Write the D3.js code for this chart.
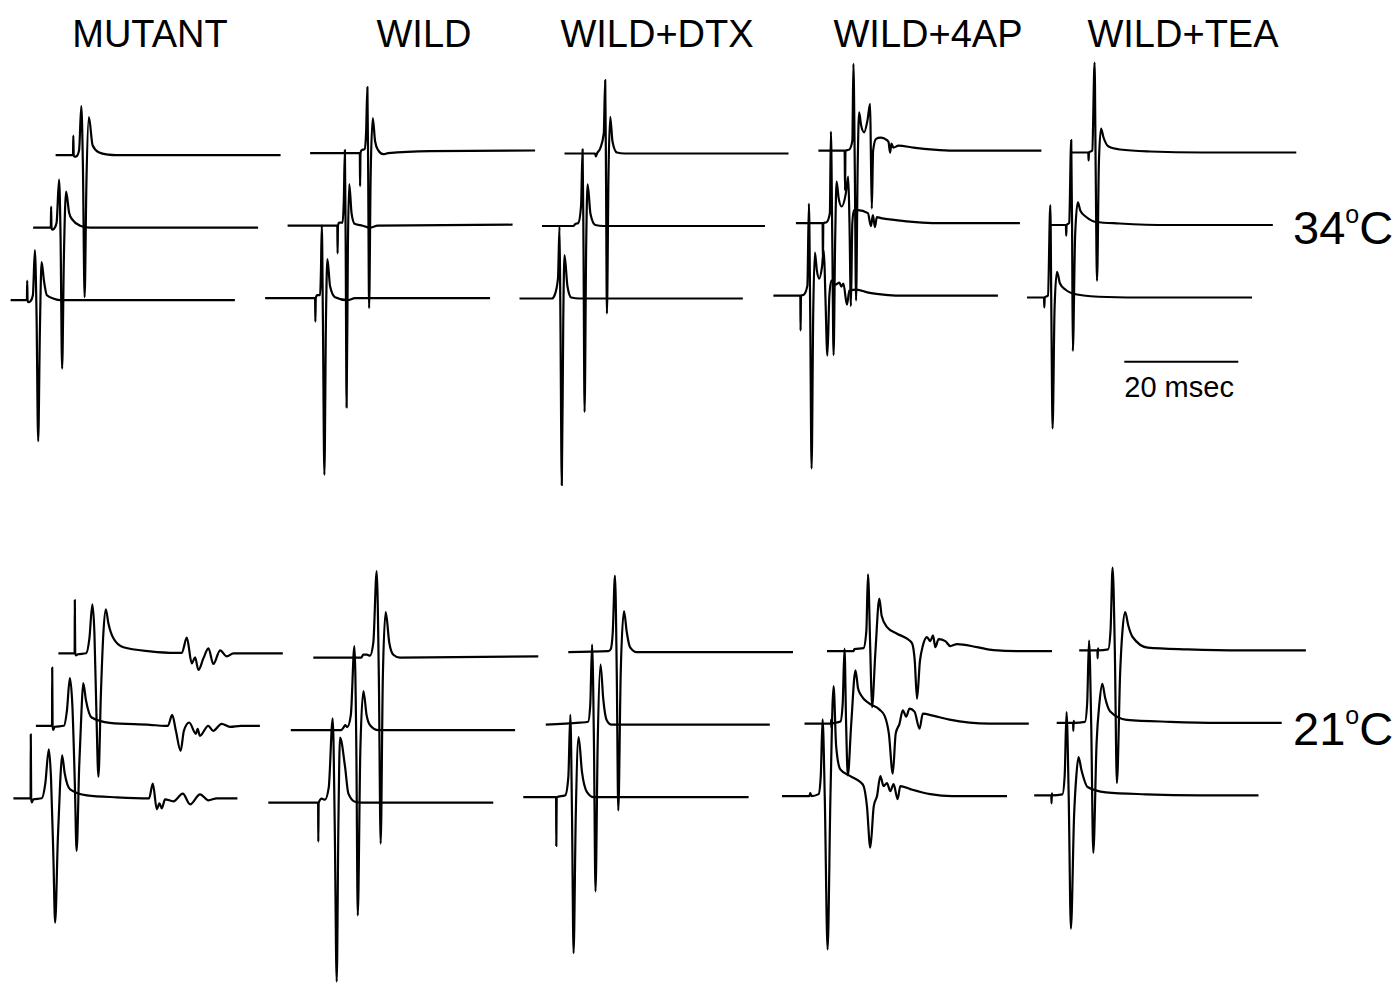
<!DOCTYPE html>
<html>
<head>
<meta charset="utf-8">
<script src="https://cdn.jsdelivr.net/npm/d3@7"></script>
<style>
  html, body { margin: 0; padding: 0; background: #fff; }
  svg { display: block; font-family: "Liberation Sans", Arial, sans-serif; }
</style>
</head>
<body>
<div id="chart"></div>
<script>
const WIDTH = 1399
const HEIGHT = 984

// column titles and temperature rows
const columns = ['MUTANT', 'WILD', 'WILD+DTX', 'WILD+4AP', 'WILD+TEA']
const temperatures = ['34', '21']

// each trace: [time (ms from sweep start), amplitude (a.u., up = positive)]
// traces listed bottom -> top, as stacked in the figure

// ---- 34 C ----
const mutant34 = [
  [[0,0],[2.86,0],[2.91,19.7],[2.98,0],[3.12,-2],[3.49,-1],[3.91,5],[4.26,50],[4.54,-10],[4.84,-141],[5.14,-30],[5.44,38],[5.84,20],[6.37,5],[7.6,1.5],[8.77,0],[39.35,0]],
  [[0,0],[3.1,0],[3.16,21],[3.23,0],[3.33,-2],[3.68,-1],[4.12,5],[4.56,48],[4.82,-10],[5.09,-141],[5.4,-30],[5.79,36],[6.32,15],[6.89,8],[8.25,2],[10,0],[39.47,0]],
  [[0,0],[3.05,0],[3.11,19.7],[3.18,0],[3.33,-1.5],[3.68,-1],[4.12,5],[4.51,49],[4.79,-10],[5.09,-142],[5.4,-30],[5.84,38],[6.49,10],[7.54,3],[9.3,0.5],[10.53,0],[39.47,0]]
]
const wild34 = [
  [[0,0],[8.77,0],[8.82,-23.4],[8.89,0],[9.12,3],[9.65,3],[9.79,25],[9.95,72.6],[10.14,-20],[10.4,-176.7],[10.68,-20],[10.93,39],[11.4,12],[12.28,1],[14.44,-2],[15.79,0],[39.47,0]],
  [[0,0],[8.72,0],[8.77,-27.7],[8.84,0],[9.04,3],[9.65,3],[9.86,25],[10.05,75.7],[10.19,-20],[10.35,-181.7],[10.58,-20],[10.81,41.7],[11.23,12],[11.75,2],[13.16,0],[14.39,-2],[15.79,0],[39.47,1]],
  [[0,0],[8.72,0],[8.77,-33],[8.84,0],[9.04,3],[9.56,4],[9.82,20],[10.05,66],[10.19,-20],[10.35,-155],[10.63,-20],[11,35],[11.4,12],[11.93,3],[12.81,-1],[13.68,0],[21.05,2],[39.47,2.7]]
]
const dtx34 = [
  [[0,0],[5.7,0],[6.14,3],[6.75,20],[7.02,71.6],[7.18,-20],[7.42,-186.7],[7.68,-20],[7.89,43.3],[8.42,12],[9.07,1],[10.5,0],[39.18,0]],
  [[0,0],[5.5,0],[5.85,2],[6.37,3],[6.85,20],[7.12,76.7],[7.28,-20],[7.47,-186],[7.75,-20],[8,41.7],[8.51,12],[9.35,1],[10.8,0],[39.12,0]],
  [[0,0],[5.35,0],[5.51,-3],[5.7,0],[6.26,5],[6.89,20],[7.14,73.3],[7.28,-20],[7.44,-160],[7.72,-20],[8.02,36.7],[8.42,12],[9.19,1],[10.53,0],[39.3,0]]
]
const ap34 = [
  [[0,0],[4.72,0],[4.77,-35],[4.84,0],[5.35,1],[5.96,10],[6.23,92],[6.46,-20],[6.7,-173],[6.98,-20],[7.28,43],[7.63,25],[8.04,17],[8.51,28],[8.86,45],[9.12,0],[9.47,-60],[9.82,0],[10.18,15],[10.88,11],[11.58,13],[11.93,9],[12.28,12],[12.9,-9],[13.33,5],[14.56,6],[16.67,3],[19.3,1],[21.93,0],[39.39,0]],
  [[0,0],[4.68,0],[4.74,-40],[4.81,0],[5.4,1],[5.96,10],[6.14,91.6],[6.39,-20],[6.61,-132],[6.88,-20],[7.14,41.6],[7.5,25],[8.02,16.6],[8.77,30],[9.18,46.6],[9.4,0],[9.65,-83],[9.9,0],[10.18,13],[10.88,13],[12.63,10],[13.16,-3],[13.51,8],[13.86,-4],[14.21,6],[14.91,5],[17.54,3],[21.05,1],[24.56,0],[39.3,0]],
  [[0,0],[4.6,0],[4.68,-40],[4.75,0],[5.4,1],[5.96,10],[6.14,86.7],[6.39,-20],[6.61,-150],[6.88,-20],[7.14,38.3],[7.5,25],[8.02,18.3],[8.6,30],[9.07,46.7],[9.2,0],[9.37,-58],[9.6,0],[10.12,11.7],[10.88,13],[11.58,12],[12.28,9],[12.58,-2],[12.81,7],[13.16,3],[14.04,5],[16.67,3],[20.18,1],[23.68,0],[39.12,0]]
]
const tea34 = [
  [[0,0],[2.98,0],[3.04,-10],[3.11,0],[3.68,2],[4.09,92.3],[4.28,-20],[4.49,-131],[4.84,-10],[5.26,25.6],[5.79,14],[6.72,8],[8.77,3],[14.04,0.5],[21.05,0],[39.47,0]],
  [[0,0],[2.88,0],[2.93,-10.7],[3,0],[3.45,2],[3.81,85],[3.98,-20],[4.09,-126],[4.5,-10],[4.96,22.6],[5.44,14],[6.44,8],[8.19,3],[12.28,1.5],[21.05,0],[39.18,0]],
  [[0,0],[2.86,0],[2.91,-8],[2.98,0],[3.56,2],[3.96,90],[4.16,-20],[4.39,-128.4],[4.72,-10],[5.09,24],[5.53,15],[6.42,6],[8.42,3],[13.68,1],[22.81,0],[39.35,0]]
]

// ---- 21 C ----
const mutant21 = [
  [[0,0],[3.02,0],[3.05,64],[3.12,0],[3.23,-4],[3.5,-1],[4.98,0],[5.6,15],[6.21,49],[6.6,20],[7.02,-60],[7.32,-124.3],[7.8,-40],[8.2,15],[8.54,43],[9,25],[9.95,9],[12.88,3],[18.14,1],[23.8,0],[24.46,14.7],[25.16,-11],[25.61,-5],[26.04,-10],[26.61,-1],[28.07,-3],[29.72,4.7],[31,-6],[32.75,4],[34.21,-2],[35.68,0],[39.3,0]],
  [[0,0],[2.83,0],[2.86,58.3],[2.93,0],[3.04,-4],[3.3,-1],[4.91,0],[5.44,15],[5.96,47.7],[6.4,20],[6.84,-60],[7.14,-125],[7.6,-40],[8,15],[8.3,42.7],[8.8,25],[9.77,8.3],[12.98,3],[20,1],[22.63,0],[23.16,0],[23.91,11],[24.56,-5],[25.39,-25],[25.96,-5],[26.89,3.3],[28.07,-8],[28.37,-3],[28.77,-10],[30.23,0],[31.11,-5],[32.58,2],[34.04,-1],[35.96,0],[39.3,0]],
  [[0,0],[2.85,0],[2.88,53.3],[2.95,0],[3.1,-2],[3.4,-1],[4.86,0],[5.44,15],[5.96,49],[6.32,20],[6.67,-60],[7.02,-123.4],[7.46,-40],[7.89,20],[8.32,44],[8.77,30],[9.65,15],[11.4,6],[16.09,2],[20.47,0.5],[21.65,0.5],[22.53,15.6],[23.4,-10],[23.98,-4],[24.56,-16.7],[25.44,-5],[26.32,5],[27.19,-10.7],[28.37,3],[29.54,-3],[30.7,0],[39.37,0]]
]
const wild21 = [
  [[0,0],[8.74,0],[8.77,-39],[8.84,0],[9.37,4],[9.95,3],[10.6,15],[11.3,84.4],[11.65,-20],[12,-179],[12.3,-20],[12.58,65],[13.46,36],[14.04,9.4],[15.21,1],[16.5,0],[39.47,0]],
  [[0,0],[8.8,0],[9.3,3],[9.53,5],[9.9,3],[10.53,15],[11.16,84],[11.5,-20],[11.75,-185.3],[12.2,-20],[12.74,39],[13.3,15],[13.91,5],[15.37,0],[39.35,0]],
  [[0,0],[8.4,0],[8.77,3],[9.4,3],[9.95,2],[10.53,15],[11.12,86.6],[11.5,-20],[11.82,-186],[12.2,-20],[12.7,45.6],[13.33,15],[14.04,3],[15.21,0],[39.47,1.3]]
]
const dtx21 = [
  [[0,0],[5.75,0],[5.79,-48.7],[5.86,0],[7.37,2],[7.9,20],[8.25,82.3],[8.55,-20],[8.82,-156],[9.2,-20],[9.7,60],[10.3,25],[11.18,5],[12.33,0],[39.53,0]],
  [[0,0],[5.96,2],[7.42,3],[7.8,20],[8.12,80],[8.45,-20],[8.72,-166.7],[9.1,-20],[9.6,60],[10.09,25],[10.65,5],[11.53,0],[39.3,0]],
  [[0,0],[7.02,1],[7.44,3],[7.8,20],[8.19,76.7],[8.5,-20],[8.77,-158.3],[9.2,-20],[9.77,41],[10.26,20],[10.82,5],[12,0],[39.42,0]]
]
const ap21 = [
  [[0,0],[4.8,0],[4.96,3],[5.15,0],[6.42,2],[6.8,20],[7.12,76.7],[7.5,0],[8,-153.3],[8.5,0],[9.05,110],[9.5,50],[10.23,26.7],[11.98,20],[13.74,14],[14.32,10],[14.9,-10],[15.49,-51.6],[16.1,-10],[16.67,0],[17.25,20],[17.82,10],[18.42,13],[19,5],[19.58,12],[20.28,-3],[20.76,10],[22.51,7],[26.02,2],[29.82,0],[39.47,0]],
  [[0,0],[4.65,0],[4.68,4],[4.72,-4],[4.76,0],[6.3,2],[6.7,20],[7.02,75],[7.3,0],[7.6,-51.7],[8.2,0],[8.95,53.3],[9.4,35],[9.95,28],[11.4,20],[13.16,14],[14.04,8],[14.8,-10],[15.49,-50],[16,-10],[16.67,0],[17.25,13.3],[17.84,7],[18.42,15],[19.3,12],[20.18,-5],[20.76,10],[22.51,8],[25.44,4],[28.95,1],[32.46,0],[39.35,0]],
  [[0,0],[4.67,0],[4.8,2],[6.4,3],[6.9,20],[7.19,76.7],[7.6,0],[7.89,-56],[8.5,0],[9.18,52.4],[9.6,35],[10.53,24],[12.28,17.4],[14.04,12.4],[14.91,8],[15.4,-10],[15.79,-47.6],[16.3,-10],[16.8,5],[17.54,14],[18.12,10],[18.6,15.7],[19,4],[19.58,12],[20.76,10],[21.63,5],[22.81,7],[26.32,4],[29.23,1],[33.33,0],[39.47,0]]
]
const tea21 = [
  [[0,0],[3,0],[3.04,-8],[3.1,2],[3.16,0],[4.96,1],[5.35,20],[5.67,83.3],[6.05,0],[6.44,-133.3],[7,-20],[7.4,20],[7.77,38.3],[8.3,25],[9.35,8.3],[12.58,3],[19.6,1],[28.95,0],[39.35,0]],
  [[0,0],[2.88,0],[2.91,-8],[2.98,2],[3.05,0],[4.96,1],[5.35,20],[5.67,82.3],[6.05,0],[6.42,-130],[7,-20],[7.5,20],[8,39],[8.5,25],[9.35,11.6],[12.28,3],[19.88,1],[28.65,0],[39.47,0]],
  [[0,0],[3.2,0],[3.23,-8],[3.3,2],[3.37,0],[5.09,1],[5.5,20],[5.86,82.7],[6.25,0],[6.61,-132.7],[7.2,-20],[7.6,20],[8.07,38.3],[8.6,25],[9.37,13.3],[12,2.7],[19.02,1],[28.42,0],[39.77,0]]
]

const rows = [
  [mutant34, wild34, dtx34, ap34, tea34],
  [mutant21, wild21, dtx21, ap21, tea21]
]

// layout: bottom-sweep origin of every panel and the stacking step
const panelOrigins = [
  [[10.6, 300.2], [265.1, 298.2], [519.5, 298.5], [773.4, 295.6], [1027, 297.5]],
  [[13.4, 798.3], [268.3, 802.7], [523.3, 797.2], [782, 796.1], [1034.2, 795.3]]
]
const STACK_DX = 22.5
const STACK_DY = -72.5
const titleX = [150, 424, 657, 928, 1183]

const svg = d3.select('#chart').append('svg')
  .attr('width', WIDTH)
  .attr('height', HEIGHT)
  .attr('viewBox', `0 0 ${WIDTH} ${HEIGHT}`)

// 20 ms = 114 px
const x = d3.scaleLinear().domain([0, 20]).range([0, 114])
const y = d3.scaleLinear().domain([0, 100]).range([0, -100])

const line = d3.line()
  .x(d => x(d[0]))
  .y(d => y(d[1]))
  .curve(d3.curveMonotoneX)

// Draw the sweeps.
rows.forEach((panels, r) => {
  panels.forEach((traces, c) => {
    const [ox, oy] = panelOrigins[r][c]
    svg.append('g')
      .attr('fill', 'none')
      .attr('stroke', '#000')
      .attr('stroke-width', 2.2)
      .attr('stroke-linejoin', 'round')
      .selectAll('path')
      .data(traces)
      .join('path')
      .attr('transform', (d, i) => `translate(${ox + i * STACK_DX},${oy + i * STACK_DY})`)
      .attr('d', line)
  })
})

// Column titles.
svg.append('g')
  .attr('font-size', 38)
  .attr('text-anchor', 'middle')
  .selectAll('text')
  .data(columns)
  .join('text')
  .attr('x', (d, i) => titleX[i])
  .attr('y', 46.5)
  .text(d => d)

// Temperature labels.
const tempY = [244, 745]
temperatures.forEach((t, i) => {
  const label = svg.append('text')
    .attr('x', 1293)
    .attr('y', tempY[i])
    .attr('font-size', 47)
  label.append('tspan').text(t)
  label.append('tspan').attr('font-size', 25).attr('dy', -21).text('o')
  label.append('tspan').attr('dy', 21).text('C')
})

// Scale bar.
const barX = 1124.3
const barY = 361.7
svg.append('line')
  .attr('x1', barX)
  .attr('x2', barX + x(20))
  .attr('y1', barY)
  .attr('y2', barY)
  .attr('stroke', '#000')
  .attr('stroke-width', 2)

svg.append('text')
  .attr('x', barX)
  .attr('y', 397)
  .attr('font-size', 29)
  .text('20 msec')
</script>
</body>
</html>
